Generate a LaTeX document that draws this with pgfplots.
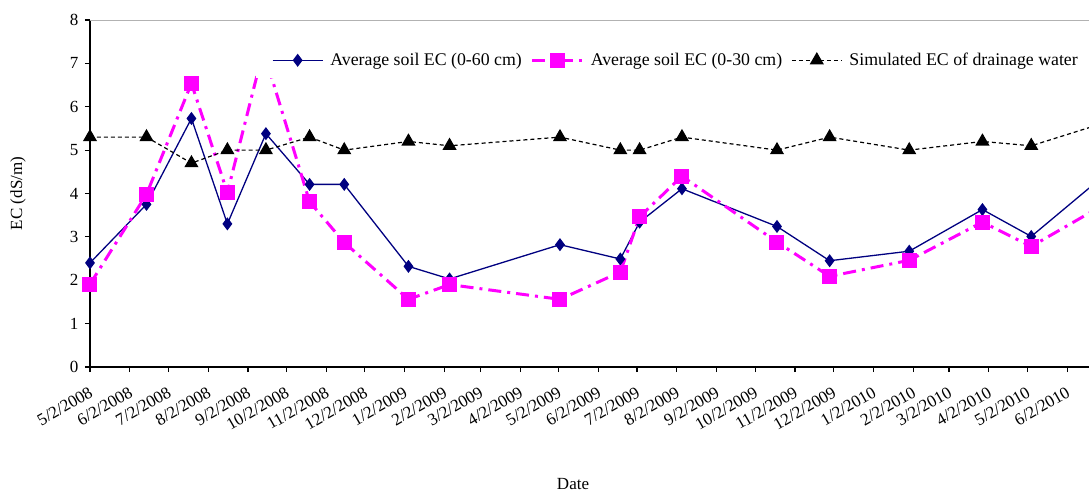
\documentclass[border=0pt]{standalone}
\usepackage{fontspec}
\setmainfont{Liberation Serif}
\usepackage{pgfplots}
\usepackage{pgfplotstable}
\pgfplotsset{compat=1.18}
\definecolor{navyblue}{RGB}{0,0,128}
\definecolor{mag}{RGB}{255,0,255}

\pgfplotstableread{
d blue sim
0   2.40 5.30
44  3.75 5.30
79  5.73 4.70
107 3.30 5.00
137 5.38 5.00
171 4.21 5.30
198 4.21 5.00
248 2.32 5.20
280 2.03 5.10
366 2.82 5.30
413 2.49 5.00
428 3.34 5.00
461 4.11 5.30
535 3.24 5.00
576 2.45 5.30
638 2.67 5.00
695 3.63 5.20
733 3.01 5.10
790 4.42 5.63
}\datatable

\pgfplotstableread{
d mag
0   1.91
44  3.98
79  6.54
107 4.02
135 7.30
171 3.81
198 2.87
248 1.56
280 1.90
366 1.56
413 2.19
428 3.46
461 4.40
535 2.88
576 2.09
638 2.46
695 3.34
733 2.78
790 3.75
}\magtable

\begin{document}
\begin{tikzpicture}
\begin{axis}[
  scale only axis, width=999bp, height=347bp,
  xmin=0, xmax=778, ymin=0, ymax=8,
  clip=false,
  axis x line*=bottom, axis y line*=left,
  axis line style={black, line width=2bp},
  tick align=outside, major tick length=5bp,
  tick style={black, line width=1.2bp},
  xtick={0,31,61,92,123,153,184,214,245,276,304,335,365,396,426,457,488,518,549,579,610,641,669,700,730,761},
  xticklabels={5/2/2008,6/2/2008,7/2/2008,8/2/2008,9/2/2008,10/2/2008,11/2/2008,12/2/2008,1/2/2009,2/2/2009,3/2/2009,4/2/2009,5/2/2009,6/2/2009,7/2/2009,8/2/2009,9/2/2009,10/2/2009,11/2/2009,12/2/2009,1/2/2010,2/2/2010,3/2/2010,4/2/2010,5/2/2010,6/2/2010},
  ytick={0,1,2,3,4,5,6,7,8},
  font=\fontsize{17bp}{20bp}\selectfont,
  tick label style={font=\fontsize{17bp}{20bp}\selectfont},
  /pgf/number format/assume math mode=true,
  xticklabel style={yshift=-11bp, xshift=-1bp, rotate=30, anchor=north east, inner sep=2bp},
  yticklabel style={xshift=-3bp},
  xlabel={Date},
  xlabel style={at={(axis description cs:0.4835,-0.337)}, anchor=center},
  ylabel={EC (dS/m)},
  ylabel style={at={(axis description cs:-0.072,0.5)}, anchor=center},
  legend columns=3,
  legend cell align=left,
  legend style={at={(axis description cs:0.166,0.884)}, anchor=west, fill=white, draw=none,
    inner xsep=16bp, inner ysep=9bp, font=\fontsize{17.8bp}{20bp}\selectfont,
    /tikz/every odd column/.append style={column sep=5bp},
    /tikz/every even column/.append style={column sep=7bp}},
  legend image code/.code={\draw[mark repeat=2,mark phase=2,#1] plot coordinates {(0bp,0bp) (25bp,0bp) (50bp,0bp)};},
]
\draw[gray!60, line width=1bp] (rel axis cs:0,1) -- (rel axis cs:1,1);
\addplot[navyblue, line width=1.3bp, mark=diamond*, mark size=5.5bp, mark options={solid, fill=navyblue}] table[x=d,y=blue]{\datatable};
\addlegendentry{Average soil EC (0-60 cm)}
\addplot[mag, line width=3bp, dash pattern=on 13bp off 6bp on 3bp off 6bp, mark=square*, mark size=6bp, mark options={solid, fill=mag}] table[x=d,y=mag]{\magtable};
\addlegendentry{Average soil EC (0-30 cm)}
\addplot[black, line width=1.2bp, dash pattern=on 4bp off 3bp, mark=triangle*, mark size=7bp, mark options={solid, fill=black}] table[x=d,y=sim]{\datatable};
\addlegendentry{Simulated EC of drainage water}
\end{axis}
\pgfresetboundingbox
\path[use as bounding box] (-90bp,-123bp) rectangle (999bp,367bp);
\end{tikzpicture}
\end{document}
